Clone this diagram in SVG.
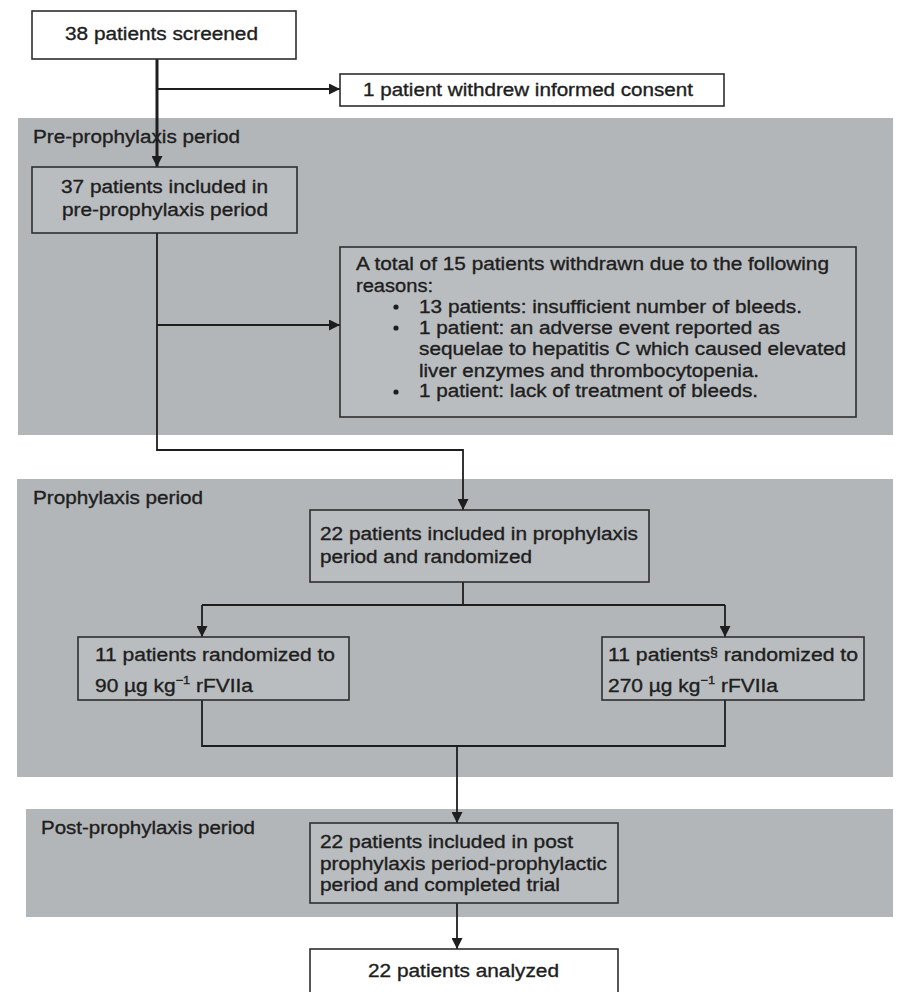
<svg xmlns="http://www.w3.org/2000/svg" width="897" height="992" viewBox="0 0 897 992">
<style>
  text { font-family: "Liberation Sans", Arial, sans-serif; font-size: 18px; fill: #1e1e1e; stroke: #1e1e1e; stroke-width: 0.35; }
  .band { fill: #b3b6b9; }
  .box { fill: #babdc0; stroke: #2e2e2e; stroke-width: 1.6; }
  .wbox { fill: #ffffff; stroke: #2e2e2e; stroke-width: 1.6; }
  .ln { fill: none; stroke: #1e1e1e; stroke-width: 1.8; }
  .thick { stroke-width: 3; }
  .arr { marker-end: url(#ah); }
</style>
<defs>
  <marker id="ah" viewBox="0 0 10 10" refX="10" refY="5" markerWidth="11" markerHeight="11" markerUnits="userSpaceOnUse" orient="auto">
    <path d="M0,0 L10,5 L0,10 Z" fill="#1e1e1e"/>
  </marker>
</defs>
<rect width="897" height="992" fill="#ffffff"/>
<g id="bands">
  <rect class="band" x="18" y="118" width="875" height="317"/>
  <rect class="band" x="17" y="479" width="876" height="298"/>
  <rect class="band" x="26" y="809" width="867" height="108"/>
  <text x="33" y="143" textLength="207" lengthAdjust="spacingAndGlyphs">Pre-prophylaxis period</text>
  <text x="33" y="504" textLength="170" lengthAdjust="spacingAndGlyphs">Prophylaxis period</text>
  <text x="41" y="834" textLength="214" lengthAdjust="spacingAndGlyphs">Post-prophylaxis period</text>
</g>
<g id="connectors">
  <line class="ln thick arr" x1="157" y1="59" x2="157" y2="167"/>
  <line class="ln arr" x1="157" y1="89" x2="340" y2="89"/>
  <polyline class="ln arr" points="157,233 157,450 463,450 463,510"/>
  <line class="ln arr" x1="157" y1="325" x2="340" y2="325"/>
  <polyline class="ln" points="463,582 463,605"/>
  <polyline class="ln" points="202,605 725,605"/>
  <line class="ln arr" x1="202" y1="605" x2="202" y2="637"/>
  <line class="ln arr" x1="725" y1="605" x2="725" y2="637"/>
  <polyline class="ln" points="202,700 202,746 725,746 725,700"/>
  <line class="ln arr" x1="457" y1="746" x2="457" y2="823"/>
  <line class="ln arr" x1="457" y1="903" x2="457" y2="949"/>
</g>
<g id="n-screened">
  <rect class="wbox" x="32" y="11" width="264" height="48"/>
  <text x="65" y="40" textLength="193" lengthAdjust="spacingAndGlyphs">38 patients screened</text>
</g>
<g id="n-withdrew">
  <rect class="wbox" x="340" y="74" width="384" height="32"/>
  <text x="363" y="96" textLength="330" lengthAdjust="spacingAndGlyphs">1 patient withdrew informed consent</text>
</g>
<g id="n-included-pre">
  <rect class="box" x="32" y="167" width="265" height="66"/>
  <text x="61" y="193" textLength="207" lengthAdjust="spacingAndGlyphs">37 patients included in</text>
  <text x="62" y="216" textLength="206" lengthAdjust="spacingAndGlyphs">pre-prophylaxis period</text>
</g>
<g id="n-withdrawn15">
  <rect class="box" x="340" y="247" width="516" height="170"/>
  <text x="356" y="270" textLength="473" lengthAdjust="spacingAndGlyphs">A total of 15 patients withdrawn due to the following</text>
  <text x="356" y="292" textLength="77" lengthAdjust="spacingAndGlyphs">reasons:</text>
  <circle cx="396" cy="307" r="2.6" fill="#1e1e1e"/>
  <text x="419" y="313" textLength="383" lengthAdjust="spacingAndGlyphs">13 patients: insufficient number of bleeds.</text>
  <circle cx="396" cy="328" r="2.6" fill="#1e1e1e"/>
  <text x="419" y="334" textLength="361" lengthAdjust="spacingAndGlyphs">1 patient: an adverse event reported as</text>
  <text x="419" y="355" textLength="427" lengthAdjust="spacingAndGlyphs">sequelae to hepatitis C which caused elevated</text>
  <text x="419" y="377" textLength="340" lengthAdjust="spacingAndGlyphs">liver enzymes and thrombocytopenia.</text>
  <circle cx="396" cy="392" r="2.6" fill="#1e1e1e"/>
  <text x="419" y="397" textLength="339" lengthAdjust="spacingAndGlyphs">1 patient: lack of treatment of bleeds.</text>
</g>
<g id="n-included-proph">
  <rect class="box" x="310" y="510" width="339" height="72"/>
  <text x="320" y="540" textLength="318" lengthAdjust="spacingAndGlyphs">22 patients included in prophylaxis</text>
  <text x="320" y="563" textLength="212" lengthAdjust="spacingAndGlyphs">period and randomized</text>
</g>
<g id="n-rand90">
  <rect class="box" x="78" y="637" width="271" height="63"/>
  <text x="95" y="661" textLength="240" lengthAdjust="spacingAndGlyphs">11 patients randomized to</text>
  <text x="95" y="692" textLength="158" lengthAdjust="spacingAndGlyphs">90 µg kg<tspan font-size="11" dy="-8">−1</tspan><tspan dy="8"> rFVIIa</tspan></text>
</g>
<g id="n-rand270">
  <rect class="box" x="602" y="637" width="262" height="63"/>
  <text x="608" y="661" textLength="250" lengthAdjust="spacingAndGlyphs">11 patients<tspan font-size="12" dy="-5">§</tspan><tspan dy="5"> randomized to</tspan></text>
  <text x="608" y="692" textLength="170" lengthAdjust="spacingAndGlyphs">270 µg kg<tspan font-size="11" dy="-8">−1</tspan><tspan dy="8"> rFVIIa</tspan></text>
</g>
<g id="n-included-post">
  <rect class="box" x="310" y="823" width="308" height="80"/>
  <text x="320" y="848" textLength="253" lengthAdjust="spacingAndGlyphs">22 patients included in post</text>
  <text x="320" y="870" textLength="287" lengthAdjust="spacingAndGlyphs">prophylaxis period-prophylactic</text>
  <text x="320" y="891" textLength="240" lengthAdjust="spacingAndGlyphs">period and completed trial</text>
</g>
<g id="n-analyzed">
  <rect class="wbox" x="310" y="949" width="308" height="60"/>
  <text x="368" y="977" textLength="191" lengthAdjust="spacingAndGlyphs">22 patients analyzed</text>
</g>
</svg>
